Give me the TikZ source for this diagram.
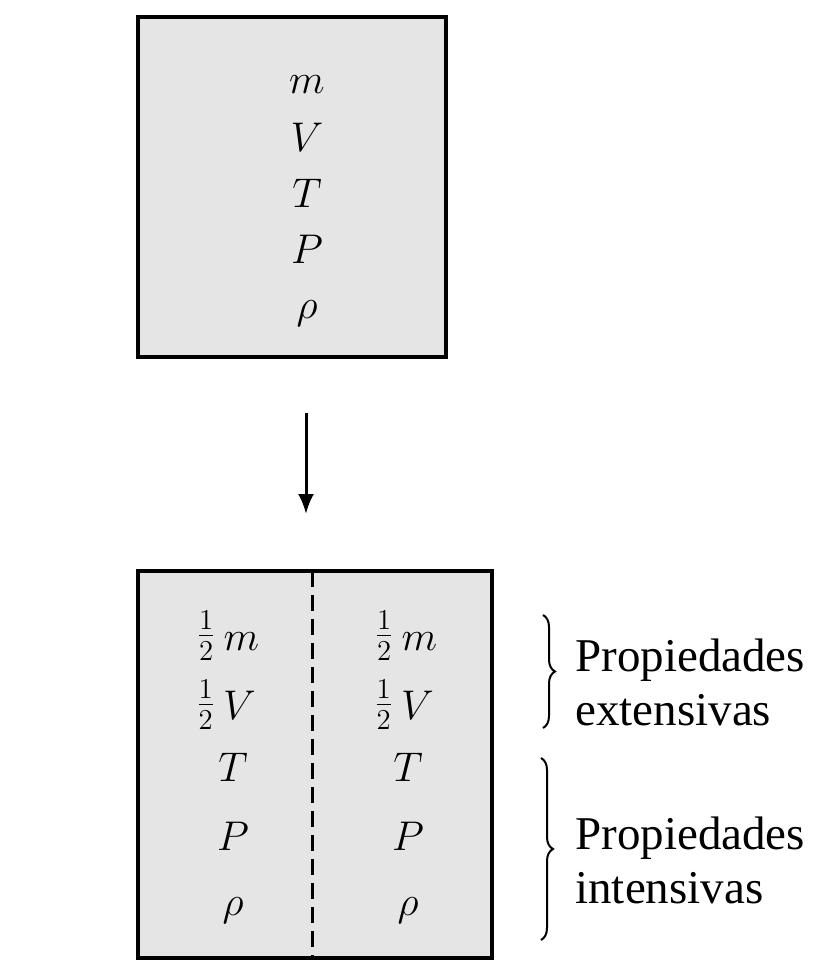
\documentclass[tikz,border=0pt]{standalone}
\usepackage{fontspec}
\setmainfont{Liberation Serif}
\usetikzlibrary{arrows.meta,decorations.pathreplacing}
\newcommand{\halfx}{\raisebox{2pt}{\fontsize{22}{26}\selectfont$\textstyle\frac{1}{2}$}\hspace{4pt}}
\begin{document}
\begin{tikzpicture}[x=0.5pt,y=-0.5pt,
  boxstyle/.style={draw=black,line width=2pt,fill=black!10},
  sym/.style={anchor=base,inner sep=0pt,font=\fontsize{21}{24}\selectfont},
  lbl/.style={anchor=west,align=left,inner sep=0pt,font=\fontsize{23.5}{27}\selectfont},
  bracestyle/.style={decorate,decoration={brace,amplitude=6pt},line width=1pt}]
\useasboundingbox (0,0) rectangle (831,964);
\fill[white] (0,0) rectangle (831,964);
% top box
\draw[boxstyle] (138,17) rectangle (446,357);
\node[sym] (tm) at (307,93) {$m$};
\node[sym] (tV) at (307,151) {$V$};
\node[sym] (tT) at (307,207) {$T$};
\node[sym] (tP) at (307,263) {$P$};
\node[sym] (tr) at (307,318) {$\rho$};
% arrow
\coordinate (a1) at (306,413);
\coordinate (a2) at (306,514);
\draw[line width=1.5pt,-{Latex[length=10pt,width=8pt]}] (a1) -- (a2);
% bottom box
\draw[boxstyle] (138,571) rectangle (492,958);
\coordinate (d1) at (312,571);
\coordinate (d2) at (312,958);
\draw[line width=1.5pt,dash pattern=on 8pt off 4pt] (d1) -- (d2);
\node[sym] (lm) at (228,650) {\halfx$m$};
\node[sym] (lV) at (226,719) {\halfx$V$};
\node[sym] (lT) at (233,781) {$T$};
\node[sym] (lP) at (233,850) {$P$};
\node[sym] (lr) at (233,915) {$\rho$};
\node[sym] (rm) at (406,650) {\halfx$m$};
\node[sym] (rV) at (404,719) {\halfx$V$};
\node[sym] (rT) at (408,781) {$T$};
\node[sym] (rP) at (408,850) {$P$};
\node[sym] (rr) at (408,915) {$\rho$};
% braces
\coordinate (b1t) at (543,615);
\coordinate (b1b) at (543,728);
\coordinate (b2t) at (541,758);
\coordinate (b2b) at (541,940);
\draw[bracestyle] (b1t) -- (b1b);
\draw[bracestyle] (b2t) -- (b2b);
\node[lbl] (ext) at (575,682) {Propiedades\\extensivas};
\node[lbl] (int) at (575,860) {Propiedades\\intensivas};
\end{tikzpicture}
\end{document}
